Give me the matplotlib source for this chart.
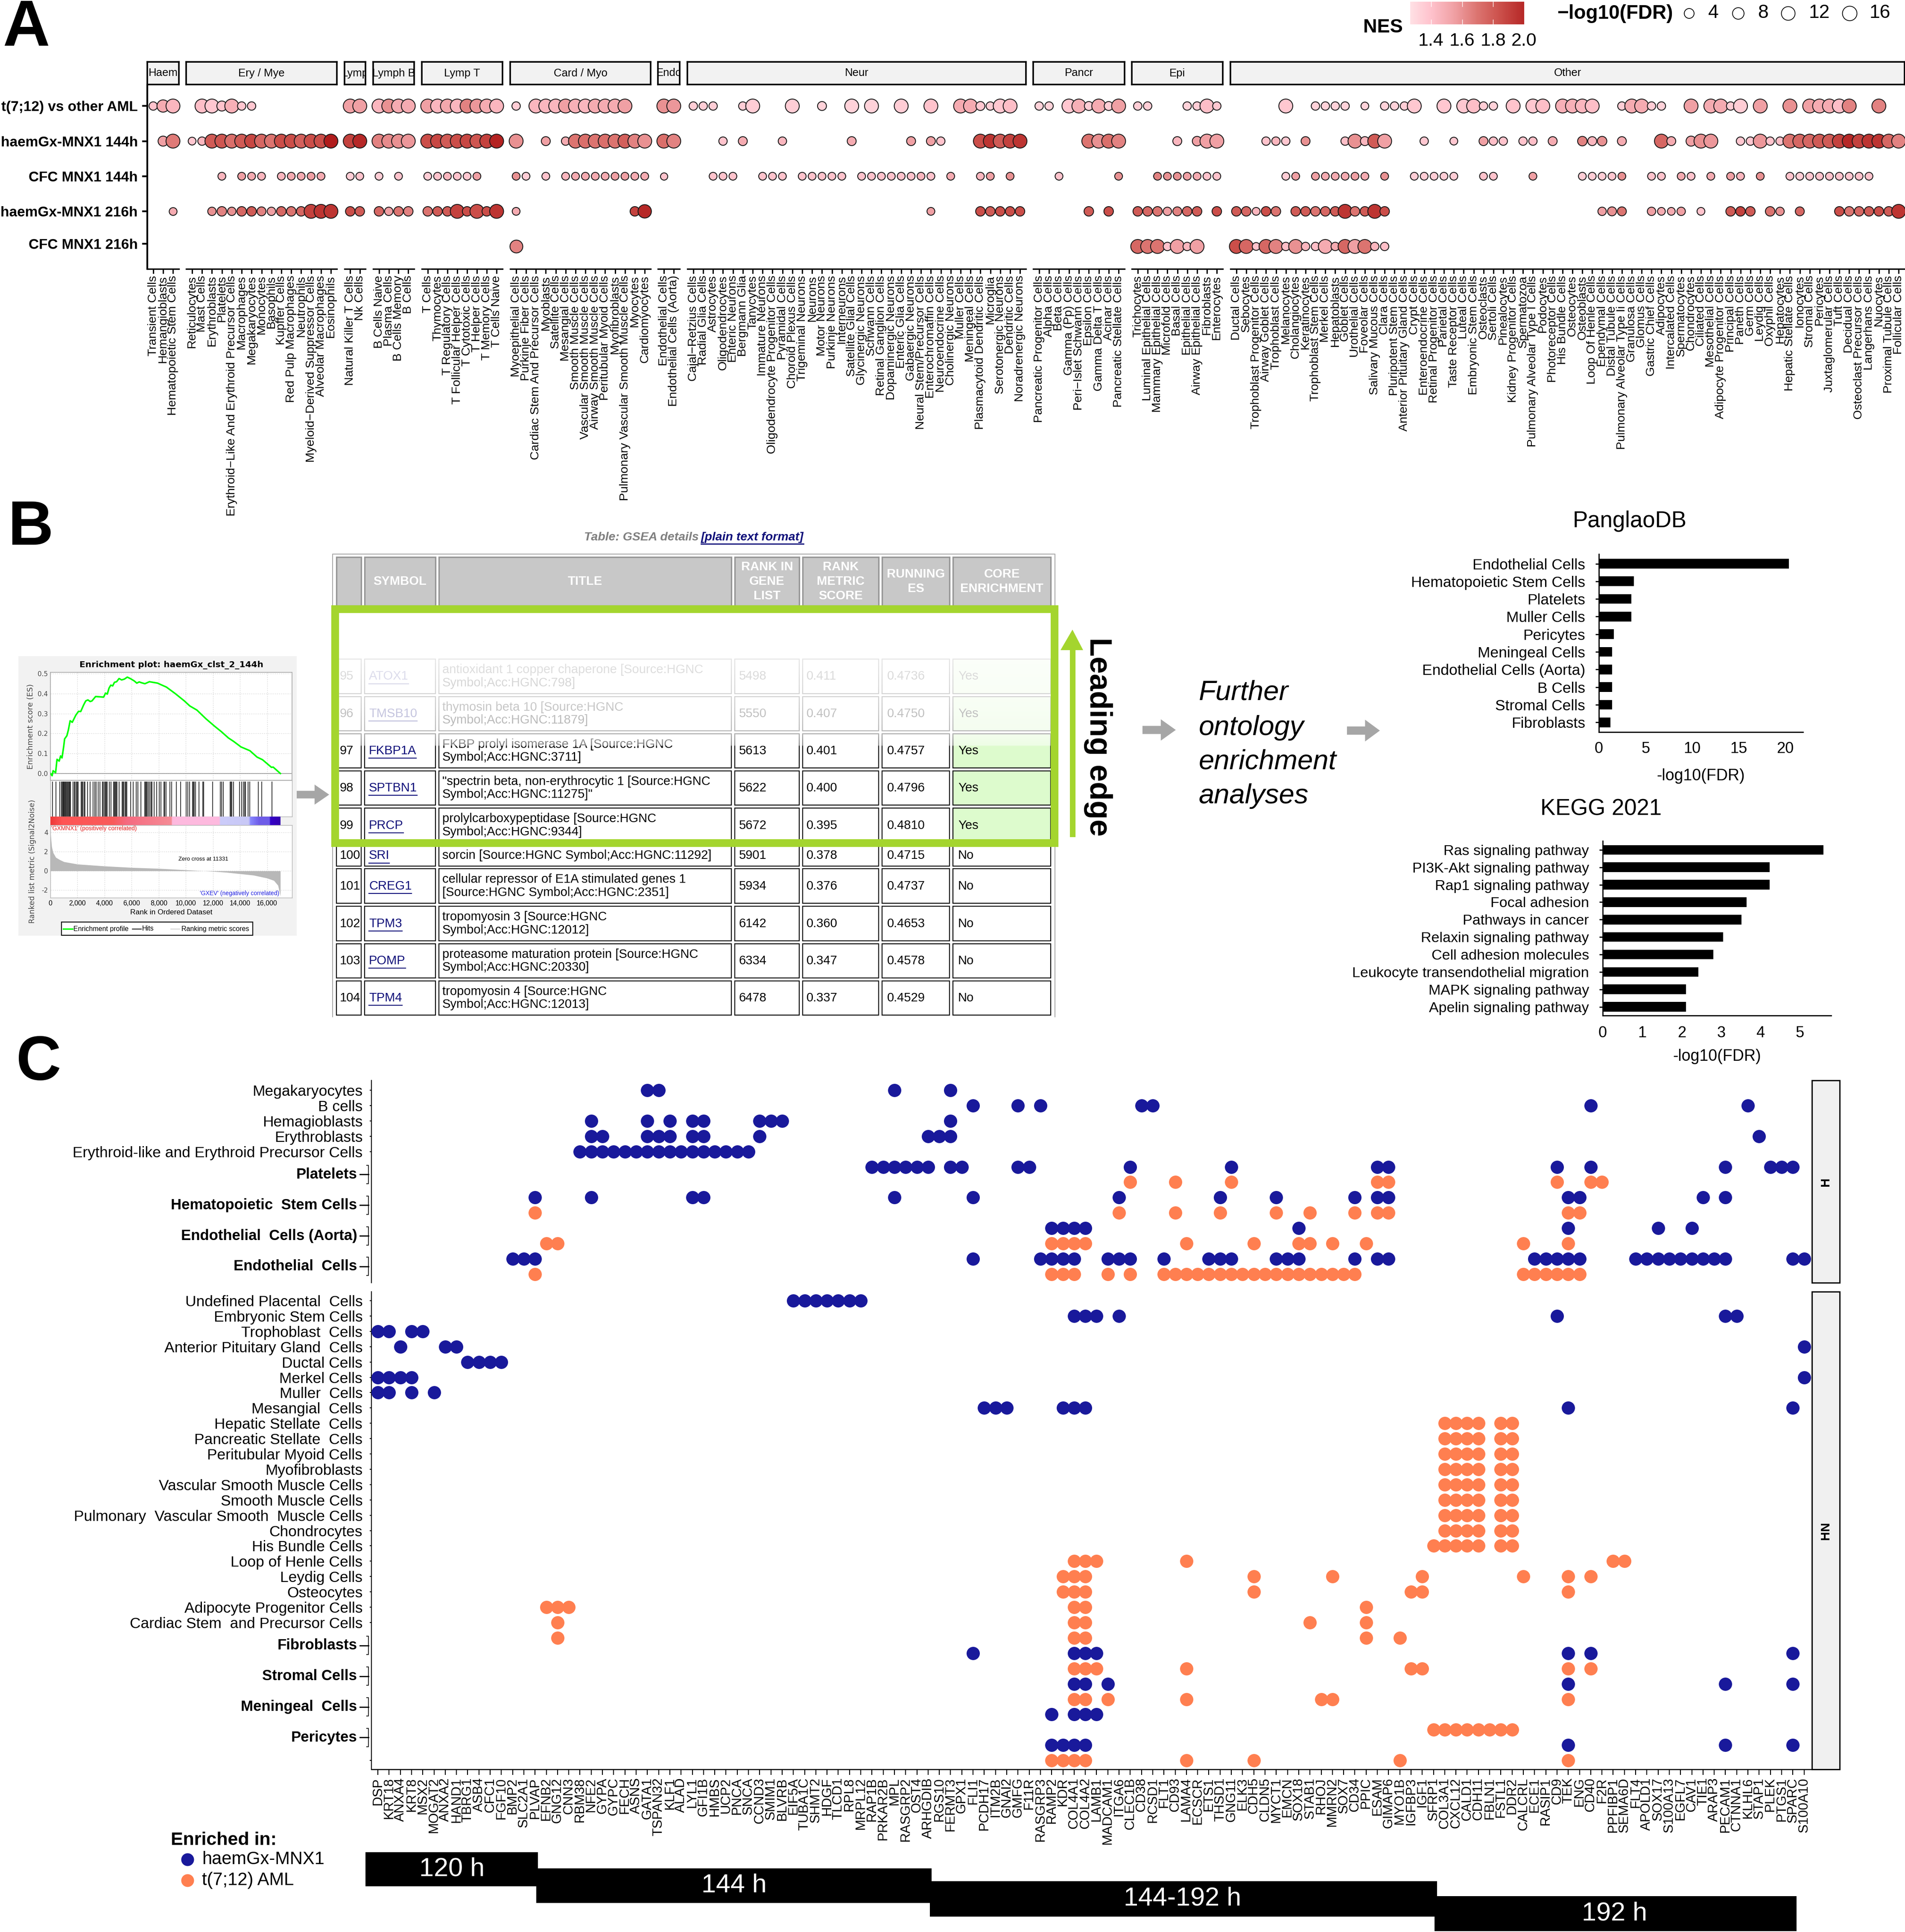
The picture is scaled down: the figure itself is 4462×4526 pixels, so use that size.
import matplotlib
matplotlib.use('Agg')
import matplotlib.pyplot as plt
from matplotlib.colors import LinearSegmentedColormap, Normalize
import matplotlib.patches as mpatches
import numpy as np

plt.rcParams['font.family'] = ['Liberation Sans', 'DejaVu Sans']
plt.rcParams['axes.unicode_minus'] = True

W, H = 4462, 4526

# ---------- panel A data
facet_names = ['Haem', 'Ery / Mye', 'Lymp', 'Lymph B', 'Lymp T', 'Card / Myo', 'Endo', 'Neur', 'Pancr', 'Epi', 'Other']
facet_cells = {
    'Haem': ['Transient Cells', 'Hemangioblasts', 'Hematopoietic Stem Cells'],
    'Ery / Mye': ['Reticulocytes', 'Mast Cells', 'Erythroblasts', 'Platelets', 'Erythroid−Like And Erythroid Precursor Cells',
                  'Macrophages', 'Megakaryocytes', 'Monocytes', 'Basophils', 'Kupffer Cells', 'Red Pulp Macrophages', 'Neutrophils',
                  'Myeloid−Derived Suppressor Cells', 'Alveolar Macrophages', 'Eosinophils'],
    'Lymp': ['Natural Killer T Cells', 'Nk Cells'],
    'Lymph B': ['B Cells Naive', 'Plasma Cells', 'B Cells Memory', 'B Cells'],
    'Lymp T': ['T Cells', 'Thymocytes', 'T Regulatory Cells', 'T Follicular Helper Cells', 'T Cytotoxic Cells', 'T Helper Cells',
               'T Memory Cells', 'T Cells Naive'],
    'Card / Myo': ['Myoepithelial Cells', 'Purkinje Fiber Cells', 'Cardiac Stem And Precursor Cells', 'Myoblasts', 'Satellite Cells',
                   'Mesangial Cells', 'Smooth Muscle Cells', 'Vascular Smooth Muscle Cells', 'Airway Smooth Muscle Cells',
                   'Peritubular Myoid Cells', 'Myofibroblasts', 'Pulmonary Vascular Smooth Muscle Cells', 'Myocytes', 'Cardiomyocytes'],
    'Endo': ['Endothelial Cells', 'Endothelial Cells (Aorta)'],
    'Neur': ['Cajal−Retzius Cells', 'Radial Glia Cells', 'Astrocytes', 'Oligodendrocytes', 'Enteric Neurons', 'Bergmann Glia', 'Tanycytes',
             'Immature Neurons', 'Oligodendrocyte Progenitor Cells', 'Pyramidal Cells', 'Choroid Plexus Cells', 'Trigeminal Neurons', 'Neurons',
             'Motor Neurons', 'Purkinje Neurons', 'Interneurons', 'Satellite Glial Cells', 'Glycinergic Neurons', 'Schwann Cells',
             'Retinal Ganglion Cells', 'Dopaminergic Neurons', 'Enteric Glia Cells', 'Gabaergic Neurons', 'Neural Stem/Precursor Cells',
             'Enterochromaffin Cells', 'Neuroendocrine Cells', 'Cholinergic Neurons', 'Muller Cells', 'Meningeal Cells',
             'Plasmacytoid Dendritic Cells', 'Microglia', 'Serotonergic Neurons', 'Dendritic Cells', 'Noradrenergic Neurons'],
    'Pancr': ['Pancreatic Progenitor Cells', 'Alpha Cells', 'Beta Cells', 'Gamma (Pp) Cells', 'Peri−Islet Schwann Cells', 'Epsilon Cells',
              'Gamma Delta T Cells', 'Acinar Cells', 'Pancreatic Stellate Cells'],
    'Epi': ['Trichocytes', 'Luminal Epithelial Cells', 'Mammary Epithelial Cells', 'Microfold Cells', 'Basal Cells', 'Epithelial Cells',
            'Airway Epithelial Cells', 'Fibroblasts', 'Enterocytes'],
    'Other': ['Ductal Cells', 'Sebocytes', 'Trophoblast Progenitor Cells', 'Airway Goblet Cells', 'Trophoblast Cells', 'Melanocytes',
              'Cholangiocytes', 'Keratinocytes', 'Trophoblast Stem Cells', 'Merkel Cells', 'Hepatoblasts', 'Goblet Cells', 'Urothelial Cells',
              'Foveolar Cells', 'Salivary Mucous Cells', 'Clara Cells', 'Pluripotent Stem Cells', 'Anterior Pituitary Gland Cells', 'Crypt Cells',
              'Enteroendocrine Cells', 'Retinal Progenitor Cells', 'Parietal Cells', 'Taste Receptor Cells', 'Luteal Cells', 'Embryonic Stem Cells',
              'Osteoclasts', 'Sertoli Cells', 'Pinealocytes', 'Kidney Progenitor Cells', 'Spermatozoa', 'Pulmonary Alveolar Type I Cells', 'Podocytes',
              'Photoreceptor Cells', 'His Bundle Cells', 'Osteocytes', 'Osteoblasts', 'Loop Of Henle Cells', 'Ependymal Cells', 'Distal Tubule Cells',
              'Pulmonary Alveolar Type Ii Cells', 'Granulosa Cells', 'Glomus Cells', 'Gastric Chief Cells', 'Adipocytes', 'Intercalated Cells',
              'Spermatocytes', 'Chondrocytes', 'Ciliated Cells', 'Mesothelial Cells', 'Adipocyte Progenitor Cells', 'Principal Cells', 'Paneth Cells',
              'Germ Cells', 'Leydig Cells', 'Oxyphil Cells', 'Hepatocytes', 'Hepatic Stellate Cells', 'Ionocytes', 'Stromal Cells', 'Pericytes',
              'Juxtaglomerular Cells', 'Tuft Cells', 'Decidual Cells', 'Osteoclast Precursor Cells', 'Langerhans Cells', 'Nuocytes',
              'Proximal Tubule Cells', 'Follicular Cells'],
}
facet_left = [345, 436, 807, 874, 988, 1195, 1541, 1610, 2420, 2651, 2882]
facet_right = [419, 789, 856, 970, 1177, 1524, 1592, 2403, 2634, 2864, 4461]
comparison_labels = ['t(7;12) vs other AML', 'haemGx-MNX1 144h', 'CFC MNX1 144h', 'haemGx-MNX1 216h', 'CFC MNX1 216h']

# each entry: (column in facet, -log10(FDR), NES)
t712 = {
    'Haem': [(0, 2, 1.4), (1, 9, 1.5), (2, 12, 1.45)],
    'Ery / Mye': [(1, 12, 1.42), (2, 12, 1.38), (3, 5, 1.4), (4, 12, 1.48), (5, 2, 1.38), (6, 2, 1.38)],
    'Lymp': [(0, 12, 1.55), (1, 12, 1.55)],
    'Lymph B': [(0, 12, 1.45), (1, 12, 1.6), (2, 12, 1.5), (3, 12, 1.5)],
    'Lymp T': [(0, 12, 1.55), (1, 12, 1.45), (2, 12, 1.52), (3, 12, 1.45), (4, 12, 1.65), (5, 12, 1.58), (6, 12, 1.5), (7, 12, 1.45)],
    'Card / Myo': [(0, 2, 1.35), (2, 12, 1.45), (3, 12, 1.45), (4, 12, 1.45), (5, 12, 1.55), (6, 12, 1.48), (7, 12, 1.45), (8, 12, 1.5),
                   (9, 12, 1.5), (10, 12, 1.5), (11, 12, 1.55)],
    'Endo': [(0, 12, 1.6), (1, 12, 1.58)],
    'Neur': [(0, 2, 1.35), (1, 2, 1.35), (2, 2, 1.35), (5, 2, 1.35), (6, 12, 1.35), (10, 12, 1.35), (13, 3, 1.33), (16, 12, 1.33), (18, 12, 1.33),
             (21, 12, 1.35), (24, 12, 1.4), (27, 12, 1.5), (28, 12, 1.5), (29, 3, 1.38), (30, 2, 1.35), (31, 12, 1.38), (32, 12, 1.42)],
    'Pancr': [(0, 2, 1.33), (1, 2, 1.33), (3, 12, 1.38), (4, 12, 1.48), (5, 3, 1.35), (6, 12, 1.5), (7, 3, 1.35), (8, 12, 1.55)],
    'Epi': [(0, 2, 1.35), (1, 2, 1.35), (5, 2, 1.33), (6, 2, 1.35), (7, 12, 1.42), (8, 2, 1.38)],
    'Other': [(5, 12, 1.38), (8, 2, 1.33), (9, 2, 1.33), (10, 2, 1.33), (11, 2, 1.33), (13, 1, 1.33), (15, 2, 1.33), (16, 2, 1.33), (17, 2, 1.35),
              (18, 12, 1.38), (21, 12, 1.38), (23, 12, 1.38), (24, 12, 1.42), (25, 2, 1.35), (26, 2, 1.33), (28, 12, 1.4), (30, 12, 1.38),
              (31, 12, 1.42), (33, 12, 1.48), (34, 12, 1.48), (35, 12, 1.45), (36, 12, 1.42), (39, 2, 1.35), (40, 12, 1.5), (41, 12, 1.5),
              (42, 2, 1.35), (43, 2, 1.33), (46, 12, 1.55), (48, 12, 1.5), (49, 12, 1.5), (50, 2, 1.35), (51, 12, 1.35), (53, 12, 1.55),
              (56, 12, 1.6), (58, 12, 1.55), (59, 12, 1.5), (60, 12, 1.5), (61, 12, 1.42), (62, 12, 1.65), (65, 12, 1.65)],
}
haem144 = {
    'Haem': [(1, 5, 1.55), (2, 12, 1.68)],
    'Ery / Mye': [(0, 1, 1.38), (1, 2, 1.45), (2, 12, 1.8), (3, 12, 1.82), (4, 12, 1.72), (5, 12, 1.8), (6, 12, 1.88), (7, 12, 1.75), (8, 12, 1.7),
                  (9, 12, 1.85), (10, 12, 1.85), (11, 12, 1.78), (12, 12, 1.85), (13, 12, 1.85), (14, 12, 2.05)],
    'Lymp': [(0, 12, 1.9), (1, 12, 2.0)],
    'Lymph B': [(0, 12, 1.65), (1, 12, 1.62), (2, 12, 1.6), (3, 12, 1.58)],
    'Lymp T': [(0, 12, 1.85), (1, 12, 1.88), (2, 12, 1.8), (3, 12, 1.85), (4, 12, 1.88), (5, 12, 1.82), (6, 12, 1.9), (7, 12, 2.02)],
    'Card / Myo': [(0, 12, 1.6), (3, 3, 1.55), (5, 2, 1.5), (6, 12, 1.7), (7, 12, 1.72), (8, 12, 1.7), (9, 12, 1.72), (10, 12, 1.7), (11, 12, 1.78),
                   (12, 12, 1.65), (13, 12, 1.6)],
    'Endo': [(0, 12, 1.72), (1, 12, 1.65)],
    'Neur': [(3, 2, 1.4), (5, 3, 1.5), (9, 2, 1.45), (16, 3, 1.5), (22, 3, 1.55), (24, 3, 1.55), (25, 2, 1.4), (29, 12, 1.85), (30, 12, 1.95),
             (31, 12, 1.8), (32, 12, 1.9), (33, 12, 1.95)],
    'Pancr': [(5, 12, 1.7), (6, 12, 1.6), (7, 12, 1.72), (8, 12, 1.65)],
    'Epi': [(4, 3, 1.45), (6, 4, 1.55), (7, 12, 1.55), (8, 12, 1.55)],
    'Other': [(3, 2, 1.4), (4, 2, 1.45), (5, 2, 1.38), (7, 3, 1.6), (11, 2, 1.42), (12, 12, 1.6), (13, 3, 1.45), (14, 12, 1.8), (15, 12, 1.55),
              (19, 2, 1.38), (22, 1, 1.38), (25, 3, 1.55), (26, 2, 1.42), (27, 2, 1.4), (29, 2, 1.4), (30, 2, 1.42), (32, 3, 1.5), (35, 4, 1.65),
              (36, 3, 1.45), (37, 4, 1.6), (39, 3, 1.5), (43, 12, 1.75), (44, 3, 1.5), (46, 5, 1.55), (47, 12, 1.6), (48, 12, 1.58), (51, 2, 1.38),
              (52, 2, 1.38), (53, 12, 1.58), (54, 2, 1.4), (55, 2, 1.42), (56, 12, 1.7), (57, 12, 1.75), (58, 12, 1.75), (59, 12, 1.8), (60, 12, 1.8),
              (61, 12, 1.9), (62, 12, 2.0), (63, 12, 1.9), (64, 12, 1.95), (65, 12, 1.95), (66, 12, 1.75), (67, 12, 1.65)],
}
cfc144 = {
    'Ery / Mye': [(3, 1, 1.45), (5, 1, 1.55), (6, 1, 1.5), (7, 1, 1.45), (9, 1, 1.45), (10, 1, 1.5), (11, 1, 1.5), (12, 1, 1.55), (13, 1, 1.5)],
    'Lymp': [(0, 1, 1.35), (1, 1, 1.4)],
    'Lymph B': [(0, 1, 1.35), (2, 1, 1.4)],
    'Lymp T': [(0, 1, 1.35), (1, 1, 1.4), (2, 1, 1.45), (3, 1, 1.4), (4, 1, 1.38), (5, 1, 1.55)],
    'Card / Myo': [(0, 1, 1.6), (1, 1, 1.35), (3, 1, 1.4), (5, 1, 1.45), (6, 1, 1.5), (7, 1, 1.5), (8, 1, 1.5), (9, 1, 1.5), (10, 1, 1.55),
                   (11, 1, 1.55), (12, 1, 1.5), (13, 1, 1.5)],
    'Endo': [(0, 0, 1.4)],
    'Neur': [(2, 1, 1.4), (3, 1, 1.4), (4, 1, 1.4), (7, 1, 1.4), (8, 1, 1.4), (9, 1, 1.4), (11, 1, 1.4), (12, 1, 1.4), (13, 1, 1.4), (14, 1, 1.4),
             (15, 1, 1.4), (17, 1, 1.4), (18, 1, 1.4), (19, 1, 1.4), (20, 1, 1.4), (21, 1, 1.4), (22, 1, 1.4), (23, 1, 1.45), (24, 1, 1.4),
             (26, 1, 1.5), (29, 1, 1.45), (30, 1, 1.55), (32, 1, 1.6)],
    'Pancr': [(2, 1, 1.4), (8, 1, 1.6)],
    'Epi': [(2, 1, 1.65), (3, 1, 1.6), (4, 1, 1.6), (5, 1, 1.55), (6, 1, 1.5), (7, 1, 1.4), (8, 1, 1.4)],
    'Other': [(5, 1, 1.35), (6, 1, 1.55), (8, 1, 1.55), (9, 1, 1.5), (10, 1, 1.5), (11, 1, 1.5), (12, 1, 1.55), (13, 1, 1.5), (15, 1, 1.6),
              (18, 1, 1.35), (19, 1, 1.35), (20, 1, 1.35), (21, 1, 1.35), (22, 1, 1.35), (25, 1, 1.4), (26, 1, 1.4), (30, 1, 1.55), (35, 1, 1.35),
              (36, 1, 1.35), (37, 1, 1.35), (38, 1, 1.38), (39, 1, 1.6), (42, 1, 1.4), (43, 1, 1.4), (45, 1, 1.5), (46, 1, 1.4), (48, 1, 1.5),
              (50, 1, 1.55), (51, 1, 1.45), (53, 1, 1.6), (56, 1, 1.4), (57, 1, 1.35), (58, 1, 1.38), (59, 1, 1.4), (60, 1, 1.4), (61, 1, 1.4),
              (62, 1, 1.38), (63, 1, 1.4), (64, 1, 1.4)],
}
haem216 = {
    'Haem': [(2, 1, 1.5)],
    'Ery / Mye': [(2, 2, 1.6), (3, 4, 1.65), (4, 2, 1.6), (5, 4, 1.75), (6, 4, 1.8), (7, 3, 1.65), (8, 2, 1.55), (9, 4, 1.75), (10, 4, 1.7), (11, 4, 1.75),
                  (12, 12, 1.9), (13, 12, 1.95), (14, 12, 1.95)],
    'Lymp': [(0, 4, 1.85), (1, 4, 1.8)],
    'Lymph B': [(0, 4, 1.75), (1, 2, 1.55), (2, 4, 1.7), (3, 4, 1.65)],
    'Lymp T': [(0, 4, 1.7), (1, 4, 1.8), (2, 4, 1.8), (3, 12, 1.9), (4, 4, 1.85), (5, 12, 1.85), (6, 4, 1.85), (7, 12, 1.95)],
    'Card / Myo': [(0, 1, 1.5), (12, 4, 1.9), (13, 11, 2.0)],
    'Neur': [(24, 1, 1.55), (29, 4, 1.85), (30, 4, 1.8), (31, 4, 1.85), (32, 4, 1.85), (33, 4, 1.85)],
    'Pancr': [(5, 4, 1.8), (7, 4, 1.85)],
    'Epi': [(0, 4, 1.8), (1, 4, 1.75), (2, 4, 1.7), (3, 2, 1.55), (4, 3, 1.65), (5, 4, 1.75), (6, 4, 1.8), (8, 4, 1.85)],
    'Other': [(0, 4, 1.8), (1, 4, 1.75), (2, 1, 1.45), (3, 4, 1.85), (4, 4, 1.7), (6, 4, 1.8), (7, 4, 1.8), (8, 4, 1.7), (9, 4, 1.75), (10, 4, 1.8),
              (11, 12, 1.95), (12, 4, 1.7), (13, 4, 1.8), (14, 12, 1.95), (15, 4, 1.85), (37, 2, 1.55), (38, 3, 1.6), (39, 3, 1.7), (42, 2, 1.55),
              (43, 1, 1.5), (44, 1, 1.5), (45, 2, 1.55), (47, 1, 1.4), (50, 4, 1.8), (51, 4, 1.9), (52, 4, 1.8), (54, 4, 1.7), (55, 2, 1.6),
              (57, 3, 1.75), (61, 4, 1.85), (62, 4, 1.7), (63, 4, 1.75), (64, 4, 1.8), (65, 4, 1.85), (66, 4, 1.8), (67, 12, 1.95)],
}
cfc216 = {
    'Card / Myo': [(0, 10, 1.65)],
    'Epi': [(0, 12, 1.75), (1, 12, 1.7), (2, 12, 1.7), (3, 2, 1.4), (4, 12, 1.55), (5, 2, 1.45), (6, 12, 1.55)],
    'Other': [(0, 12, 1.85), (1, 12, 1.75), (2, 1, 1.4), (3, 12, 1.75), (4, 12, 1.65), (5, 2, 1.42), (6, 12, 1.6), (7, 2, 1.45), (8, 2, 1.42),
              (9, 12, 1.5), (10, 2, 1.5), (11, 12, 1.75), (12, 12, 1.55), (13, 12, 1.7), (14, 2, 1.45), (15, 2, 1.42)],
}
comparison_rows = [t712, haem144, cfc144, haem216, cfc216]

nes_stops = [(1.25, '#ffe4e8'), (1.4, '#ffc2cc'), (1.55, '#f0a0a4'), (1.7, '#dc7470'), (1.85, '#cb4f4a'), (2.05, '#b01c1c')]
legend_fdr = [4, 8, 12, 16]

# ---------- panel B data
es_rank = [0, 130, 200, 385, 490, 650, 755, 860, 990, 1050, 1220, 1325, 1460, 1615, 1880, 2080, 2240, 2450, 2610, 2770, 2940, 3070, 3340, 3930, 4070, 4200, 4330, 4460,
           4600, 4730, 4890, 5070, 5260, 5460, 5680, 5920, 6190, 6380, 6560, 6720, 6980, 7310, 7910, 8170, 8570, 9230, 9890, 10290, 10820, 11480, 12150, 12610,
           13140, 13540, 14070, 14730, 15260, 15660, 16320, 16450, 16980]
es_score = [0, -.011, .014, .004, .071, .062, .088, .078, .139, .173, .189, .217, .264, .256, .292, .311, .31, .342, .363, .368, .36, .363, .385, .382, .402, .397, .427, .442,
            .438, .456, .459, .475, .468, .472, .482, .474, .463, .452, .458, .454, .449, .459, .452, .444, .432, .399, .363, .338, .317, .274, .235, .21,
            .178, .16, .133, .114, .082, .069, .031, .032, 0]
hit_ranks = [172, 424, 689, 820, 887, 930, 967, 1020, 1060, 1099, 1170, 1219, 1300, 1364, 1405, 1444, 1490, 1682, 1750, 1815, 1921, 1990, 2053, 2278, 2345, 2411, 2480, 2543, 2742, 2940,
             3139, 3272, 3377, 3536, 3669, 3840, 3907, 3990, 4066, 4130, 4199, 4358, 4464, 4662, 4730, 4795, 4860, 4927, 5060, 5285, 5350, 5417, 5523, 5590, 5656, 5921, 6119, 6344, 6477,
             6689, 6954, 7020, 7086, 7165, 7245, 7351, 7430, 7510, 7669, 7841, 8040, 8172, 8371, 8460, 8543, 8834, 8967, 9298, 9629, 10026, 10159, 10291, 10490, 10560, 10623, 10728,
             10980, 11245, 11325, 11987, 12543, 12636, 12768, 13272, 13340, 13404, 13536, 13960, 14132, 14238, 14331, 14397, 14596, 14728, 15351, 15589, 16358]
metric_rank = [0, 100, 200, 400, 700, 1000, 2000, 4000, 6000, 8000, 10000, 11331, 12000, 13000, 14000, 15000, 16000, 16500, 16800, 16980]
metric_value = [4.0, 2.5, 1.9, 1.4, 1.15, .95, .7, .5, .35, .25, .1, 0, -.05, -.15, -.3, -.45, -.75, -1.0, -1.5, -2.6]

table_headers = ['', 'SYMBOL', 'TITLE', 'RANK IN\nGENE\nLIST', 'RANK\nMETRIC\nSCORE', 'RUNNING\nES', 'CORE\nENRICHMENT']
table_num = ['95', '96', '97', '98', '99', '100', '101', '102', '103', '104']
table_symbol = ['ATOX1', 'TMSB10', 'FKBP1A', 'SPTBN1', 'PRCP', 'SRI', 'CREG1', 'TPM3', 'POMP', 'TPM4']
table_title = ['antioxidant 1 copper chaperone [Source:HGNC\nSymbol;Acc:HGNC:798]', 'thymosin beta 10 [Source:HGNC\nSymbol;Acc:HGNC:11879]',
               'FKBP prolyl isomerase 1A [Source:HGNC\nSymbol;Acc:HGNC:3711]', '"spectrin beta, non-erythrocytic 1 [Source:HGNC\nSymbol;Acc:HGNC:11275]"',
               'prolylcarboxypeptidase [Source:HGNC\nSymbol;Acc:HGNC:9344]', 'sorcin [Source:HGNC Symbol;Acc:HGNC:11292]',
               'cellular repressor of E1A stimulated genes 1\n[Source:HGNC Symbol;Acc:HGNC:2351]', 'tropomyosin 3 [Source:HGNC\nSymbol;Acc:HGNC:12012]',
               'proteasome maturation protein [Source:HGNC\nSymbol;Acc:HGNC:20330]', 'tropomyosin 4 [Source:HGNC\nSymbol;Acc:HGNC:12013]']
table_rank = ['5498', '5550', '5613', '5622', '5672', '5901', '5934', '6142', '6334', '6478']
table_metric = ['0.411', '0.407', '0.401', '0.400', '0.395', '0.378', '0.376', '0.360', '0.347', '0.337']
table_es = ['0.4736', '0.4750', '0.4757', '0.4796', '0.4810', '0.4715', '0.4737', '0.4653', '0.4578', '0.4529']
table_core = ['Yes', 'Yes', 'Yes', 'Yes', 'Yes', 'No', 'No', 'No', 'No', 'No']

panglao_terms = ['Endothelial Cells', 'Hematopoietic Stem Cells', 'Platelets', 'Muller Cells', 'Pericytes', 'Meningeal Cells',
                 'Endothelial Cells (Aorta)', 'B Cells', 'Stromal Cells', 'Fibroblasts']
panglao_values = [20.4, 3.75, 3.5, 3.5, 1.6, 1.4, 1.4, 1.4, 1.4, 1.25]
kegg_terms = ['Ras signaling pathway', 'PI3K-Akt signaling pathway', 'Rap1 signaling pathway', 'Focal adhesion', 'Pathways in cancer',
              'Relaxin signaling pathway', 'Cell adhesion molecules', 'Leukocyte transendothelial migration', 'MAPK signaling pathway', 'Apelin signaling pathway']
kegg_values = [5.59, 4.23, 4.23, 3.65, 3.52, 3.05, 2.8, 2.42, 2.11, 2.11]

# ---------- panel C data
genes = ['DSP', 'KRT18', 'ANXA4', 'KRT8', 'MSX2', 'MOGAT2', 'ANXA2', 'HAND1', 'TBRG1', 'ASB4', 'CFC1', 'FGF10', 'BMP2', 'SLC2A1', 'PLVAP', 'EFNB2', 'GNG12', 'CNN3',
         'RBM38', 'NFE2', 'GYPA', 'GYPC', 'FECH', 'ASNS', 'GATA1', 'TSPAN32', 'KLF1', 'ALAD', 'LYL1', 'GFI1B', 'HMBS', 'UCP2', 'PNCA', 'SNCA', 'CCND3', 'SMIM1',
         'BLVRB', 'EIF5A', 'TUBA1C', 'SHMT2', 'HDGF', 'TLCD1', 'RPL8', 'MRPL12', 'RAP1B', 'PRKAR2B', 'MPL', 'RASGRP2', 'OST4', 'ARHGDIB', 'RGS10', 'FERMT3', 'GPX1',
         'FLI1', 'PCDH17', 'ITM2B', 'GNAI2', 'GMFG', 'F11R', 'RASGRP3', 'RAMP2', 'KDR', 'COL4A1', 'COL4A2', 'LAMB1', 'MADCAM1', 'ITGA6', 'CLEC1B', 'CD38', 'RCSD1',
         'FLT1', 'CD93', 'LAMA4', 'ECSCR', 'ETS1', 'THSD1', 'GNG11', 'ELK3', 'CDH5', 'CLDN5', 'MYCT1', 'EMCN', 'SOX18', 'STAB1', 'RHOJ', 'MMRN2', 'SOX7', 'CD34',
         'PPIC', 'ESAM', 'GIMAP6', 'MYO1B', 'IGFBP3', 'IGF1', 'SFRP1', 'COL3A1', 'CXCL12', 'CALD1', 'CDH11', 'FBLN1', 'FSTL1', 'DDR2', 'CALCRL', 'ECE1', 'RASIP1',
         'CD9', 'TEK', 'ENG', 'CD40', 'F2R', 'PPFIBP1', 'SEMA6D', 'FLT4', 'APOLD1', 'SOX17', 'S100A13', 'EGFL7', 'CAV1', 'TIE1', 'ARAP3', 'PECAM1', 'CTNNA1',
         'KLHL6', 'STAP1', 'PLEK', 'PTGS1', 'SPARC', 'S100A10']

h_plain_labels = ['Megakaryocytes', 'B cells', 'Hemagioblasts', 'Erythroblasts', 'Erythroid-like and Erythroid Precursor Cells']
h_pair_labels = ['Platelets', 'Hematopoietic  Stem Cells', 'Endothelial  Cells (Aorta)', 'Endothelial  Cells']
hn_plain_labels = ['Undefined Placental  Cells', 'Embryonic Stem Cells', 'Trophoblast  Cells', 'Anterior Pituitary Gland  Cells', 'Ductal Cells', 'Merkel Cells',
                   'Muller  Cells', 'Mesangial  Cells', 'Hepatic Stellate  Cells', 'Pancreatic Stellate  Cells', 'Peritubular Myoid Cells', 'Myofibroblasts',
                   'Vascular Smooth Muscle Cells', 'Smooth Muscle Cells', 'Pulmonary  Vascular Smooth  Muscle Cells', 'Chondrocytes', 'His Bundle Cells',
                   'Loop of Henle Cells', 'Leydig Cells', 'Osteocytes', 'Adipocyte Progenitor Cells', 'Cardiac Stem  and Precursor Cells']
hn_pair_labels = ['Fibroblasts', 'Stromal Cells', 'Meningeal  Cells', 'Pericytes']

h_blue = [[24, 25, 46, 51], [53, 57, 59, 68, 69, 108, 122], [19, 24, 26, 28, 29, 34, 35, 36, 51], [19, 20, 24, 25, 26, 28, 29, 34, 49, 50, 51, 123],
          list(range(18, 34)), [44, 45, 46, 47, 48, 49, 51, 52, 57, 58, 67, 76, 89, 90, 105, 108, 120, 124, 125, 126], [],
          [14, 19, 28, 29, 46, 53, 66, 75, 80, 87, 89, 90, 106, 107, 118, 120], [], [60, 61, 62, 63, 82, 106, 114, 117], [],
          [12, 13, 14, 53, 59, 60, 61, 62, 65, 66, 67, 70, 74, 75, 76, 80, 81, 82, 87, 89, 90, 103, 104, 105, 106, 107, 112, 113, 114, 115, 116, 117, 118, 119, 120, 126, 127], []]
h_orange = [[], [], [], [], [], [], [67, 71, 76, 89, 90, 105, 108, 109], [], [14, 66, 71, 75, 80, 83, 87, 89, 90, 106, 107], [],
            [15, 16, 60, 61, 62, 63, 72, 78, 82, 83, 85, 88, 102, 106], [], [14, 60, 61, 62, 65, 67] + list(range(70, 88)) + [102, 103, 104, 105, 106, 107]]
hn_blue = [list(range(37, 44)), [62, 63, 64, 66, 105, 120, 121], [0, 1, 3, 4], [2, 6, 7, 127], [8, 9, 10, 11], [0, 1, 2, 3, 127], [0, 1, 3, 5],
           [54, 55, 56, 61, 62, 63, 106, 126], [], [], [], [], [], [], [], [], [], [], [], [], [], [], [], [53, 62, 63, 64, 106, 108, 126], [],
           [62, 63, 65, 106, 120, 126], [], [60, 62, 63, 64], [], [60, 61, 62, 63, 106, 120, 126], []]
stroma_block = [95, 96, 97, 98, 100, 101]
hn_orange = [[], [], [], [], [], [], [], [], stroma_block, stroma_block, stroma_block, stroma_block, stroma_block, stroma_block, stroma_block, stroma_block,
             [94, 95, 96, 97, 98, 100, 101], [62, 63, 64, 72, 110, 111], [61, 62, 63, 78, 85, 93, 102, 106, 108], [61, 62, 63, 78, 92, 93, 106],
             [15, 16, 17, 62, 63, 88], [16, 62, 63, 83, 88], [16, 62, 63, 88, 91], [], [62, 63, 64, 72, 92, 93, 106, 108], [], [62, 63, 65, 72, 84, 85, 106], [],
             list(range(94, 102)), [], [60, 61, 62, 63, 72, 78, 91, 106]]
time_labels = ['120 h', '144 h', '144-192 h', '192 h']

blue = '#19199b'
orange = '#ff7f50'

fig = plt.figure(figsize=(W / 100, H / 100), dpi=100, facecolor='white')


def px_ax(x0, y0, x1, y1, **kw):
    return fig.add_axes([x0 / W, 1 - y1 / H, (x1 - x0) / W, (y1 - y0) / H], **kw)


def area(d):
    return (d * .72) ** 2


def fdr_diam(v):
    return 17 + 1.3 * v


canvas = px_ax(0, 0, W, H)
canvas.set_xlim(0, W)
canvas.set_ylim(H, 0)
canvas.axis('off')
canvas.set_zorder(0)

# panel letters
canvas.text(6, 107, 'A', fontsize=110, fontweight='bold', va='baseline')
canvas.text(18, 1276, 'B', fontsize=106, fontweight='bold', va='baseline')
canvas.text(38, 2530, 'C', fontsize=105, fontweight='bold', va='baseline')

# ---------- panel A
nes_cmap = LinearSegmentedColormap.from_list('nes', [(round((v - 1.25) / .8, 6), c) for v, c in nes_stops])
nes_norm = Normalize(1.25, 2.05)
for f, name in enumerate(facet_names):
    cells = facet_cells[name]
    n = len(cells)
    ax = px_ax(facet_left[f], 199, facet_right[f], 630)
    ax.set_xlim(-.6, n - .4)
    ax.set_ylim(4.64, -.6)
    for r, row in enumerate(comparison_rows):
        pts = row.get(name, [])
        if not pts:
            continue
        xs = [p[0] for p in pts]
        ds = [area(fdr_diam(p[1])) for p in pts]
        cs = [p[2] for p in pts]
        ax.scatter(xs, [r] * len(xs), s=ds, c=cs, cmap=nes_cmap, norm=nes_norm, edgecolors='#1a1a1a', linewidths=1.5, clip_on=False, zorder=3)
    for s in ['top', 'right']:
        ax.spines[s].set_visible(False)
    ax.spines['bottom'].set_linewidth(2.4)
    ax.set_xticks(range(n))
    ax.set_xticklabels(cells, rotation=90, fontsize=20.5, ha='center', va='top')
    ax.tick_params(axis='x', length=8, width=2.2, pad=3)
    if f == 0:
        ax.spines['left'].set_linewidth(3)
        ax.set_yticks([0, 1, 2, 3, 3.92])
        ax.set_yticklabels(comparison_labels, fontsize=24, fontweight='bold')
        ax.tick_params(axis='y', length=9, width=3, pad=7)
    else:
        ax.spines['left'].set_visible(False)
        ax.set_yticks([])
    strip = px_ax(facet_left[f], 145, facet_right[f], 198)
    strip.set_facecolor('#f2f2f2')
    strip.set_xticks([])
    strip.set_yticks([])
    for s in strip.spines.values():
        s.set_linewidth(2.6)
    strip.text(.5, .5, name, transform=strip.transAxes, ha='center', va='center', fontsize=18.5, clip_on=True)

# NES colourbar
canvas.text(3193, 76, 'NES', fontsize=32.5, fontweight='bold')
cbar = px_ax(3303, 4, 3570, 57)
cbar.imshow(np.linspace(1.265, 2.0, 256)[None, :], aspect='auto', cmap=nes_cmap, norm=nes_norm, extent=(1.265, 2.0, 0, 1))
cbar.set_xticks([1.4, 1.6, 1.8, 2.0])
cbar.set_xticklabels(['1.4', '1.6', '1.8', '2.0'], fontsize=31)
cbar.set_yticks([])
cbar.tick_params(axis='x', length=0, pad=14)
for v in [1.4, 1.6, 1.8]:
    cbar.plot([v, v], [0, .2], color='white', lw=1)
    cbar.plot([v, v], [.8, 1], color='white', lw=1)
for s in cbar.spines.values():
    s.set_visible(False)

# -log10(FDR) size key
canvas.text(3647, 44, '−log10(FDR)', fontsize=33, fontweight='bold')
for d, cx, tx, lab in zip([23, 27, 32, 34], [3956, 4071, 4188, 4332], [4013, 4129, 4261, 4403], legend_fdr):
    canvas.scatter([cx], [31], s=area(d), facecolors='white', edgecolors='black', linewidths=1.3)
    canvas.text(tx, 31, str(lab), fontsize=32, ha='center', va='center')

# ---------- panel B: GSEA summary figure
canvas.add_patch(mpatches.Rectangle((43, 1537), 652, 655, facecolor='#f2f2f2', edgecolor='none'))
canvas.text(401, 1558, 'Enrichment plot: haemGx_clst_2_144h', fontsize=14.5, fontweight='bold', family='DejaVu Sans', ha='center', va='center')
gsea_xticks = [0, 2000, 4000, 6000, 8000, 10000, 12000, 14000, 16000]
grey_txt = '#444444'

ax = px_ax(118, 1575, 684, 1828)
ax.plot(es_rank, es_score, color='#00ff00', lw=2.6, zorder=3)
ax.axhline(0, color='#999999', lw=1.2, zorder=2)
ax.set_xlim(0, 17840)
ax.set_ylim(-.034, .506)
ax.set_xticks(gsea_xticks)
ax.set_xticklabels([])
ax.set_yticks([0, .1, .2, .3, .4, .5])
ax.set_yticklabels(['0.0', '0.1', '0.2', '0.3', '0.4', '0.5'], fontsize=11, family='DejaVu Sans', color=grey_txt)
ax.tick_params(length=0, pad=4)
ax.grid(color='#d8d8d8', ls=(0, (2, 2)), lw=.9)
for s in ax.spines.values():
    s.set_color('#b0b0b0')
    s.set_linewidth(1.4)
ax.set_ylabel('Enrichment score (ES)', fontsize=13, family='DejaVu Sans', color=grey_txt, labelpad=5)

ax = px_ax(118, 1828, 684, 1913)
ax.vlines(hit_ranks, 0, .96, color='#111111', lw=1.15)
ax.set_xlim(0, 17840)
ax.set_ylim(0, 1)
ax.set_xticks([])
ax.set_yticks([])
for s in ax.spines.values():
    s.set_color('#b0b0b0')
    s.set_linewidth(1)

band_cmap = LinearSegmentedColormap.from_list('band', [(0, '#ee3a3a'), (.05, '#ff5555'), (.27, '#f95a5a'), (.33, '#f56a80'), (.527, '#f58c96'), (.53, '#fdb9de'),
                                                       (.735, '#fdb9de'), (.74, '#ccccfa'), (.865, '#c8c8f6'), (.87, '#8a8aff'), (.91, '#6e5ce8'), (.955, '#6e5ce8'),
                                                       (.96, '#3300c8'), (1, '#3300b0')])
ax = px_ax(118, 1913, 684, 1933)
ax.imshow(np.linspace(0, 1, 400)[None, :], aspect='auto', cmap=band_cmap, extent=(0, 16980, 0, 1))
ax.set_xlim(0, 17840)
ax.axis('off')

ax = px_ax(118, 1933, 684, 2103)
ax.fill_between(metric_rank, metric_value, 0, color='#b8b8b8', lw=0)
ax.set_xlim(0, 17840)
ax.set_ylim(-2.78, 4.75)
ax.set_xticks(gsea_xticks)
ax.set_xticklabels(['0', '2,000', '4,000', '6,000', '8,000', '10,000', '12,000', '14,000', '16,000'], fontsize=11.5)
ax.set_yticks([-2, 0, 2, 4])
ax.set_yticklabels(['-2', '0', '2', '4'], fontsize=11, family='DejaVu Sans', color=grey_txt)
ax.tick_params(length=0, pad=4)
ax.grid(color='#d8d8d8', ls=(0, (2, 2)), lw=.9)
ax.set_axisbelow(True)
for s in ax.spines.values():
    s.set_color('#b0b0b0')
    s.set_linewidth(1)
ax.text(11300, 1.2, 'Zero cross at 11331', fontsize=9.5, ha='center', va='center')
ax.text(50, 4.4, "'GXMNX1' (positively correlated)", color='#e02020', fontsize=10, va='center')
ax.text(16900, -2.35, "'GXEV' (negatively correlated)", color='#2020e0', fontsize=10, ha='right', va='center')
ax.set_xlabel('Rank in Ordered Dataset', fontsize=12.5, labelpad=5)
ax.set_ylabel('Ranked list metric (Signal2Noise)', fontsize=12.5, family='DejaVu Sans', color=grey_txt, labelpad=9)

canvas.add_patch(mpatches.Rectangle((144, 2160), 448, 31, facecolor='white', edgecolor='black', lw=1.6))
canvas.plot([148, 170], [2176, 2176], color='#00ff00', lw=2.4)
canvas.text(172, 2176, 'Enrichment profile', fontsize=11.5, va='center')
canvas.plot([310, 330], [2176, 2176], color='#555555', lw=2)
canvas.text(333, 2176, 'Hits', fontsize=11.5, va='center')
canvas.plot([400, 420], [2176, 2176], color='#dddddd', lw=2)
canvas.text(425, 2176, 'Ranking metric scores', fontsize=11.5, va='center')


def grey_arrow(x0, x1, y0, y1):
    yc = (y0 + y1) / 2
    neck = x0 + .55 * (x1 - x0)
    t = (y1 - y0) * .19
    canvas.add_patch(mpatches.Polygon([(x0, yc - t), (neck, yc - t), (neck, y0), (x1, yc), (neck, y1), (neck, yc + t), (x0, yc + t)],
                                      facecolor='#a6a6a6', edgecolor='none'))


grey_arrow(695, 771, 1838, 1885)
grey_arrow(2676, 2754, 1685, 1735)
grey_arrow(3155, 3232, 1686, 1737)

# ---------- GSEA table
canvas.text(1368, 1259, 'Table: GSEA details ', fontsize=20.5, fontweight='bold', style='italic', color='#808080', va='center')
canvas.text(1642, 1259, '[plain text format]', fontsize=20.5, fontweight='bold', style='italic', color='#10107a', va='center')
canvas.plot([1642, 1882], [1274, 1274], color='#10107a', lw=2)

col_edges = [(788, 846), (854, 1020), (1028, 1713), (1721, 1872), (1880, 2058), (2066, 2224), (2232, 2461)]
text_left = [796, 864, 1036, 1731, 1889, 2078, 2244]
canvas.plot([779, 779, 2471, 2471], [2382, 1298, 1298, 2382], color='#aaaaaa', lw=1.5)
for (a, b), head in zip(col_edges, table_headers):
    canvas.add_patch(mpatches.Rectangle((a, 1305), b - a, 114, facecolor='#c8c8c8', edgecolor='#969696', lw=2.4))
    canvas.text((a + b) / 2, 1362, head, fontsize=21, fontweight='bold', color='white', ha='center', va='center', linespacing=1.25)

row_top = [1544, 1632, 1719, 1806, 1893, 1980, 2035, 2123, 2211, 2298]
row_bot = [1625, 1712, 1799, 1886, 1974, 2029, 2116, 2204, 2291, 2378]
for i in range(10):
    y0, y1 = row_top[i], row_bot[i]
    yc = (y0 + y1) / 2
    for c, (a, b) in enumerate(col_edges):
        fc = '#ddfbcd' if c == 6 and table_core[i] == 'Yes' else 'white'
        canvas.add_patch(mpatches.Rectangle((a, y0), b - a, y1 - y0, facecolor=fc, edgecolor='#111111', lw=1.7))
    vals = [table_num[i], table_symbol[i], table_title[i], table_rank[i], table_metric[i], table_es[i], table_core[i]]
    for c, v in enumerate(vals):
        tc = '#10107a' if c == 1 else 'black'
        canvas.text(text_left[c], yc, v, fontsize=21, color=tc, va='center', linespacing=1.12)
    # underline the symbol link
    sym = canvas.text(text_left[1], yc, table_symbol[i], fontsize=21, color='#10107a', va='center', alpha=0)
    ext = sym.get_window_extent(fig.canvas.get_renderer())
    canvas.plot([text_left[1], text_left[1] + ext.width], [yc + 17, yc + 17], color='#10107a', lw=1.6)

# faded top rows, behind the green box
fade_alpha = np.interp(np.arange(1433, 1760), [1433, 1540, 1630, 1712, 1745, 1748], [1, .9, .82, .7, .5, 0])
fade = np.ones((len(fade_alpha), 2, 4))
fade[:, :, 3] = fade_alpha[:, None]
canvas.imshow(fade, aspect='auto', extent=(780, 2470, 1760, 1433), zorder=5)
canvas.set_xlim(0, W)
canvas.set_ylim(H, 0)

green = '#a4d52e'
canvas.add_patch(mpatches.Rectangle((785, 1427), 1685, 548, facecolor='none', edgecolor=green, lw=13, zorder=6))
canvas.add_patch(mpatches.Rectangle((2506, 1523), 13, 438, facecolor=green, edgecolor='none', zorder=6))
canvas.add_patch(mpatches.Polygon([(2484, 1523), (2512, 1475), (2537, 1523)], facecolor=green, edgecolor='none', zorder=6))
canvas.text(2572, 1726, 'Leading edge', fontsize=52, fontweight='bold', rotation=-90, ha='center', va='center', zorder=6)

for line, y in zip(['Further', 'ontology', 'enrichment', 'analyses'], [1623, 1705, 1785, 1865]):
    canvas.text(2808, y, line, fontsize=47, style='italic', va='center')

# ---------- enrichment bars
canvas.text(3817, 1221, 'PanglaoDB', fontsize=38, ha='center', va='center')
ax = px_ax(3745, 1298, 4223, 1715)
ax.barh(range(10), panglao_values, height=.55, color='black')
ax.set_xlim(0, 21.9)
ax.set_ylim(9.55, -.545)
ax.set_yticks(range(10))
ax.set_yticklabels(panglao_terms, fontsize=25.5)
ax.set_xticks([0, 5, 10, 15, 20])
ax.tick_params(axis='x', length=0, labelsize=26, pad=16)
ax.tick_params(axis='y', length=6, width=2, pad=17)
ax.spines[['top', 'right']].set_visible(False)
ax.spines[['left', 'bottom']].set_linewidth(2)
ax.set_xlabel('-log10(FDR)', fontsize=27, labelpad=20)

canvas.text(3750, 1896, 'KEGG 2021', fontsize=38, ha='center', va='center')
ax = px_ax(3754, 1970, 4289, 2379)
ax.barh(range(10), kegg_values, height=.55, color='black')
ax.set_xlim(0, 5.79)
ax.set_ylim(9.5, -.51)
ax.set_yticks(range(10))
ax.set_yticklabels(kegg_terms, fontsize=24.5)
ax.set_xticks([0, 1, 2, 3, 4, 5])
ax.tick_params(axis='x', length=0, labelsize=26, pad=17)
ax.tick_params(axis='y', length=6, width=2, pad=17)
ax.spines[['top', 'right']].set_visible(False)
ax.spines[['left', 'bottom']].set_linewidth(2)
ax.set_xlabel('-log10(FDR)', fontsize=27, labelpad=14)

# ---------- panel C
def dot_facet(ax, blue_rows, orange_rows, plain, pairs, pair_start, extra_tick=None):
    for r, cols in enumerate(blue_rows):
        if cols:
            ax.scatter(cols, [r] * len(cols), s=area(31), color=blue, lw=0, clip_on=False, zorder=3)
    for r, cols in enumerate(orange_rows):
        if cols:
            ax.scatter(cols, [r] * len(cols), s=area(31), color=orange, lw=0, clip_on=False, zorder=3)
    ax.set_xlim(-.57, 127.7)
    ax.spines[['top', 'right']].set_visible(False)
    ax.spines['left'].set_linewidth(1.6)
    ticks = list(range(len(plain))) + ([extra_tick] if extra_tick else [])
    ax.set_yticks(ticks)
    ax.set_yticklabels(plain + ([''] if extra_tick else []), fontsize=25.5)
    ax.tick_params(axis='y', length=3, width=1.6, pad=12)
    for p, name in enumerate(pairs):
        r0 = pair_start + 2 * p
        mid = r0 + .5
        # bracket and long tick beside the bold labels
        ax.plot([-1.0, -.85, -.85, -1.0], [r0 - .1, r0 - .1, r0 + 1.1, r0 + 1.1], color='#333333', lw=1.6, clip_on=False)
        ax.plot([-.85, -1.6], [mid, mid], color='black', lw=2, clip_on=False)
        ax.text(-1.85, mid, name, fontsize=25, fontweight='bold', ha='right', va='center')


ax_h = px_ax(870, 2531, 4244, 3005)
ax_h.set_ylim(12.56, -.64)
dot_facet(ax_h, h_blue, h_orange, h_plain_labels, h_pair_labels, 5)
ax_h.spines['bottom'].set_visible(False)
ax_h.set_xticks([])

ax_hn = px_ax(870, 3026, 4244, 4145)
ax_hn.set_ylim(30.58, -.585)
dot_facet(ax_hn, hn_blue, hn_orange, hn_plain_labels, hn_pair_labels, 22, extra_tick=30)
ax_hn.spines['bottom'].set_linewidth(1.8)
ax_hn.set_xticks(range(len(genes)))
ax_hn.set_xticklabels(genes, rotation=90, fontsize=22.5, ha='center', va='top')
ax_hn.tick_params(axis='x', length=9, width=1.6, pad=5)

for (y0, y1, lab) in [(2531, 3005, 'H'), (3026, 4145, 'HN')]:
    strip = px_ax(4244, y0, 4309, y1)
    strip.set_facecolor('#f0f0f0')
    strip.set_xticks([])
    strip.set_yticks([])
    for s in strip.spines.values():
        s.set_linewidth(2.2)
    strip.text(.5, .5, lab, transform=strip.transAxes, rotation=90, ha='center', va='center', fontsize=21, fontweight='bold')

# enriched-in key
canvas.text(400, 4311, 'Enriched in:', fontsize=31, fontweight='bold', va='center')
canvas.scatter([439], [4356], s=area(30), color=blue, lw=0)
canvas.text(473, 4356, 'haemGx-MNX1', fontsize=30, va='center')
canvas.scatter([439], [4405], s=area(30), color=orange, lw=0)
canvas.text(473, 4405, 't(7;12) AML', fontsize=30, va='center')

# time bars under the gene axis
for (x0, x1, y0, y1, tx, lab) in zip([856, 1256, 2178, 3360], [1260, 2182, 3366, 4208], [4339, 4377, 4407, 4442], [4419, 4458, 4490, 4524],
                                     [1059, 1719, 2770, 3782], time_labels):
    canvas.add_patch(mpatches.Rectangle((x0, y0), x1 - x0, y1 - y0, facecolor='black', edgecolor='none'))
    canvas.text(tx, (y0 + y1) / 2, lab, color='white', fontsize=44, ha='center', va='center')

fig.savefig('out.png', dpi=100)
